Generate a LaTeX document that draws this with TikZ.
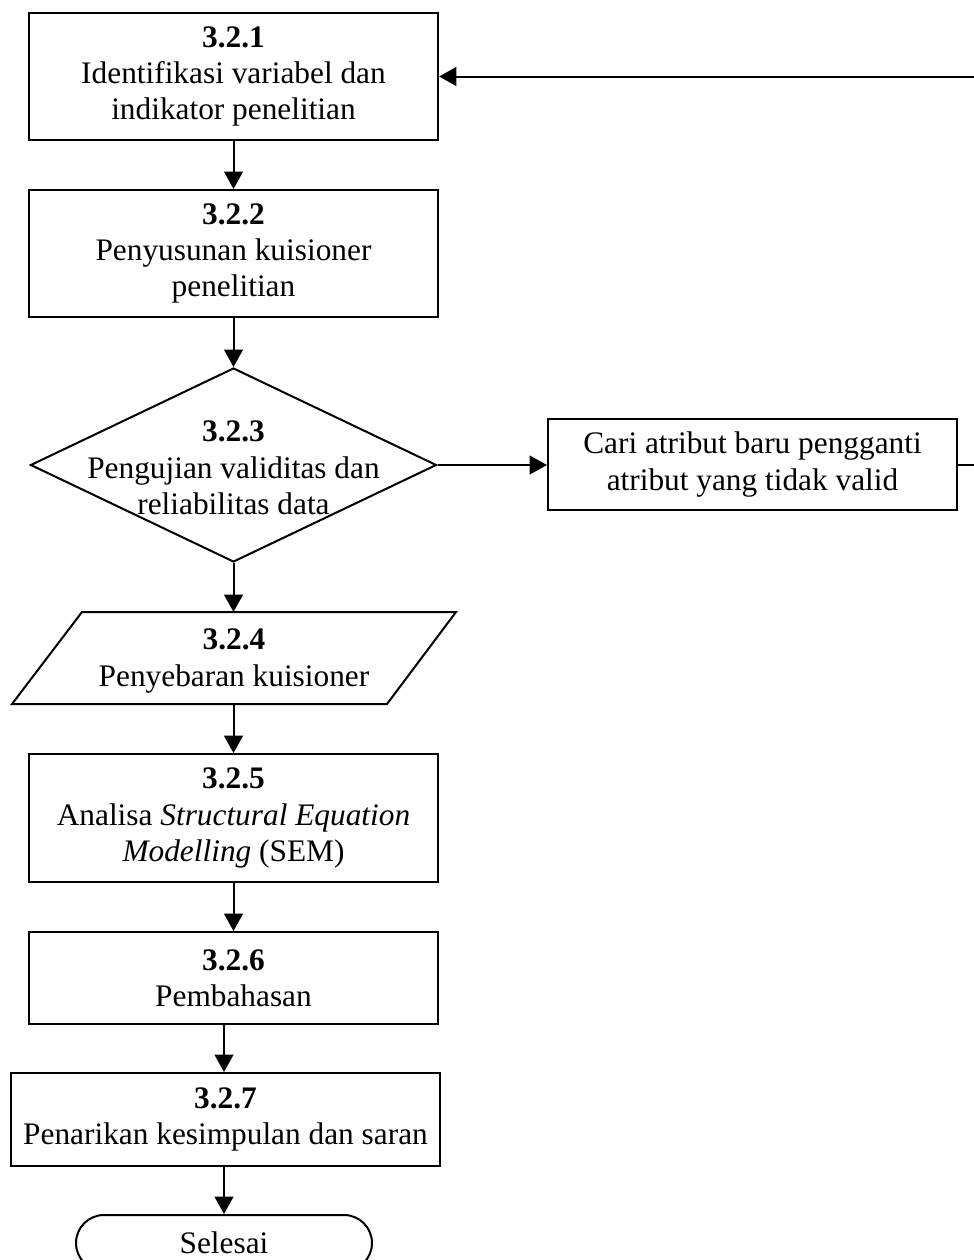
\documentclass[tikz,border=0pt]{standalone}
\usepackage{fontspec}
\setmainfont{Liberation Serif}
\usetikzlibrary{shapes.geometric, arrows.meta}

\begin{document}
\begin{tikzpicture}[x=0.75pt, y=-0.75pt, >={Triangle[length=13pt, width=14pt]},
    every node/.style={font=\fontsize{23.5}{27.2}\selectfont, align=center},
    box/.style={draw, line width=1.5pt, minimum width=306.75pt, inner sep=0pt},
    decision/.style={draw, diamond, line width=1.5pt, minimum width=304.5pt, minimum height=145.5pt, inner sep=0pt},
    term/.style={draw, rounded corners=21pt, line width=1.5pt, minimum width=222pt, minimum height=42pt},
    arr/.style={->, line width=1.5pt}]
    \useasboundingbox (0,0) rectangle (974,1260);

    % steps
    \node[box, minimum height=95.25pt] (b1) at (233.5,76.5) {\textbf{3.2.1}\\Identifikasi variabel dan\\indikator penelitian};
    \node[box, minimum height=95.25pt] (b2) at (233.5,253.5) {\textbf{3.2.2}\\Penyusunan kuisioner\\penelitian};
    \node[decision] (d3) at (233.5,465) {};
    \node (d3txt) at (233.5,468) {\textbf{3.2.3}\\Pengujian validitas dan\\reliabilitas data};
    \node[box, minimum height=68.25pt] (c) at (752.5,464.5) {Cari atribut baru pengganti\\atribut yang tidak valid};
    % input / output step
    \coordinate (p4n) at (233.5,612);
    \coordinate (p4s) at (233.5,704);
    \draw[line width=1.5pt, line join=miter] (82,612) -- (456,612) -- (387,704) -- (12,704) -- cycle;
    \node (p4txt) at (234,661) {\textbf{3.2.4}\\Penyebaran kuisioner};
    \node[box, minimum height=96pt] (b5) at (233.5,818) {\textbf{3.2.5}\\Analisa \textit{Structural Equation}\\\textit{Modelling} (SEM)};
    \node[box, minimum height=69pt] (b6) at (233.5,978) {\textbf{3.2.6}\\Pembahasan};
    \node[box, minimum width=321.75pt, minimum height=69.75pt] (b7) at (225.5,1119.5) {\textbf{3.2.7}\\Penarikan kesimpulan dan saran};
    \node[term] (t) at (224,1243) {Selesai};

    % connectors
    \draw[arr] (b1) -- (b2);
    \draw[arr] (b2) -- (d3);
    \draw[arr] (d3.east) -- (d3.east -| c.west);
    \draw[arr] (d3.south) -- (p4n);
    \draw[arr] (p4s) -- (b5.north);
    \draw[arr] (b5) -- (b6);
    \draw[arr] (b6.south -| t.north) -- (b7.north -| t.north);
    \draw[arr] (b7.south -| t.north) -- (t.north);
    \draw[arr] (c.east) -- ++(40,0) |- (b1.east);
\end{tikzpicture}
\end{document}
